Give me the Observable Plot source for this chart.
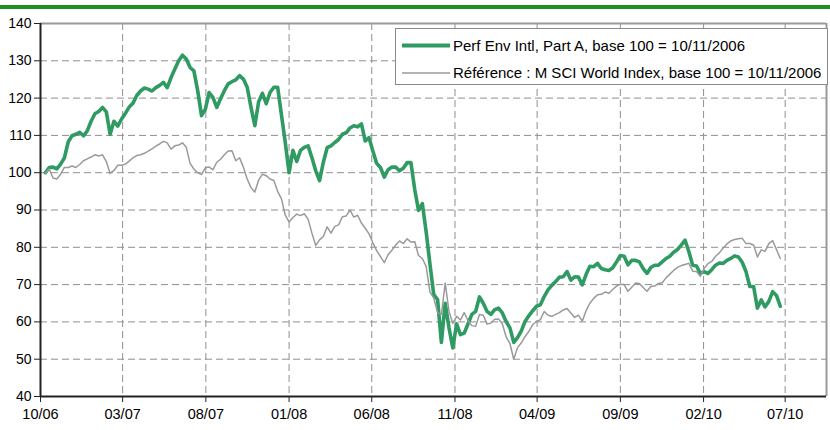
<!DOCTYPE html>
<html>
<head>
<meta charset="utf-8">
<script src="https://cdn.jsdelivr.net/npm/d3@7"></script>
<script src="https://cdn.jsdelivr.net/npm/@observablehq/plot@0.6"></script>
<style>
  body { margin: 0; background: #fff; }
</style>
</head>
<body>
<div id="chart"></div>
<script>
// ---- data (weekly readings) ----
const startDate = "2006-10-10";
const stepDays = 7;
const xEndDate = "2010-09-15";

const fund = [
  100, 101.4, 101.5, 101, 102.3, 104, 108.3, 109.9, 110.3, 110.8,
  109.9, 111.2, 113.8, 115.8, 116.4, 117.5, 116.3, 110.3, 113.8, 112.5,
  114.4, 115.9, 117.6, 118.6, 120.7, 121.9, 122.7, 122.4, 121.9, 122.8,
  123.4, 124.2, 122.8, 125.5, 127.8, 130, 131.5, 130.5, 128.2, 127.3,
  122, 115.3, 117, 121.5, 120.2, 117.5, 119.8, 122, 123.8, 124.4,
  124.9, 126, 125.1, 122.9, 117.5, 112.6, 119, 121.3, 118.5, 121.5,
  122.9, 122.9, 115.5, 108.1, 100, 106, 103, 106, 106.8, 107.2,
  104, 100.5, 97.9, 102.8, 106.7, 107.2, 108.1, 108.9, 110.3, 110.7,
  112, 112.6, 112.3, 113.1, 108.5, 109.4, 105.8, 102.5, 101.4, 98.8,
  100.8, 101.5, 101.5, 100.5, 101.2, 102.7, 102.7, 95.5, 89.9, 91.7,
  84.2, 75.5, 67.3, 66, 54.5, 65, 58.4, 53, 59.5, 56.6,
  57, 59.5, 62, 62.8, 66.7, 65, 62.8, 62, 63.3, 63.7,
  62.4, 60.1, 58.4, 54.5, 55.8, 57.6, 60.2, 61.7, 63, 64.2,
  64.6, 66.8, 68.6, 69.8, 70.8, 72, 72.1, 73.5, 71.2, 72.1,
  72, 69.9, 72.7, 74.9, 74.8, 75.7, 74.3, 74, 73.8, 74.5,
  76.1, 77.8, 77.6, 75.3, 76.5, 76.5, 76.1, 74.3, 73, 74.6,
  75.2, 75.2, 76.1, 77, 77.6, 78.7, 79.4, 80.6, 81.9, 78.8,
  75.2, 75, 73, 73.5, 73, 74, 75.2, 75.8, 75.7, 76.5,
  77, 77.7, 77.4, 76, 73.5, 69.5, 69.5, 63.7, 65.9, 64,
  65.5, 68.1, 67.1, 64.2
];

const msci = [
  100, 101, 98.6, 98.3, 99.6, 101.4, 101.4, 101.8, 101.4, 102.2,
  103.2, 103.7, 104.2, 104.8, 104.5, 104.8, 103, 99.8, 100.6, 102,
  102, 102.3, 103.1, 104, 104.6, 104.8, 105.2, 105.8, 106.4, 107.1,
  107.7, 108.4, 108, 106.3, 107.2, 107.4, 108, 106.8, 102.5, 101,
  100, 99.5, 101.3, 101.5, 100.8, 102.8, 103.6, 104.8, 105.8, 105.9,
  103.2, 104, 101.5, 98.3, 96, 94.8, 98, 99.6, 99.2, 98.3,
  97.9, 95, 93, 88.6, 86.8, 88, 88.9, 88.5, 89, 87.5,
  83.8, 80.5, 82, 82.9, 85.5, 83.8, 85.6, 86, 88.2, 88.4,
  90, 88.1, 88.6, 86.5, 85.1, 83.6, 81.2, 79.1, 77.5, 75.9,
  78, 79.2, 80.6, 81.7, 81, 82.3, 81.4, 81.5, 77.8, 77,
  74.9, 68, 66.4, 62.5, 62, 70.4, 62.8, 59.6, 61.5, 60.5,
  62.5, 60.3, 59, 58.8, 62, 61.8, 59.4, 59.7, 60.7, 60.8,
  59.5, 56, 54.2, 50, 53.1, 54.4, 56.1, 57.5, 59.3, 60.1,
  60.6, 62.8, 61.8, 61.5, 62, 62.5, 63.2, 63.6, 62.4, 61.2,
  61.8, 60.2, 63, 65, 66.3, 67.3, 67.4, 68, 67.7, 68.7,
  69.6, 70.1, 70, 68.2, 69.3, 70.4, 70.3, 69.2, 68.2, 69.5,
  69.6, 70.3, 70.5, 71.8, 72.8, 73.8, 74.6, 75.1, 75.4, 75.7,
  73.6, 73.5, 72.2, 74.3, 75.6, 76.2, 77.6, 78.5, 79.8, 80.9,
  81.7, 82.1, 82.3, 82.4, 81, 81, 80.6, 77.4, 79.3, 78.9,
  81, 81.8, 79.4, 77
];

const yTicks = [40, 50, 60, 70, 80, 90, 100, 110, 120, 130, 140];
const xTickLabels = ["10/06", "03/07", "08/07", "01/08", "06/08", "11/08", "04/09", "09/09", "02/10", "07/10"];
const seriesNames = [
  "Perf Env Intl, Part A, base 100 = 10/11/2006",
  "Référence : M SCI World Index, base 100 = 10/11/2006"
];
const seriesColors = ["#2f9a62", "#9a9a9a"];

// ---- build ----
const parseMY = d3.utcParse("%m/%y");
const parseISO = d3.utcParse("%Y-%m-%d");
const xTicks = xTickLabels.map(parseMY);
const t0 = parseISO(startDate);
const xEnd = parseISO(xEndDate);
const rows = fund.map((v, i) => ({date: d3.utcDay.offset(t0, i * stepDays), fund: v, msci: msci[i]}));

const font = "'Liberation Sans', Arial, Helvetica, sans-serif";
const gridStyle = {stroke: "#8f8f8f", strokeOpacity: 1, strokeWidth: 1, strokeDasharray: "7,4"};

const chart = Plot.plot({
  width: 830,
  height: 430,
  marginLeft: 40,
  marginRight: 4,
  marginTop: 23,
  marginBottom: 34,
  style: {fontFamily: font, fontSize: "14px", color: "#000", background: "#fff", overflow: "visible"},
  x: {type: "utc", domain: [xTicks[0], xEnd]},
  y: {domain: [40, 140]},
  marks: [
    Plot.gridY(yTicks.slice(1, -1), gridStyle),
    Plot.gridX(xTicks.slice(1), gridStyle),
    Plot.lineY(rows, {x: "date", y: "fund", stroke: seriesColors[0], strokeWidth: 3.6, strokeLinejoin: "round"}),
    Plot.lineY(rows, {x: "date", y: "msci", stroke: seriesColors[1], strokeWidth: 1.5}),
    Plot.ruleY([140], {stroke: "#9a9a9a", strokeWidth: 2}),
    Plot.ruleX([xEnd], {stroke: "#9a9a9a", strokeWidth: 2}),
    Plot.ruleY([40], {stroke: "#222", strokeWidth: 2}),
    Plot.ruleX([xTicks[0]], {stroke: "#222", strokeWidth: 2}),
    Plot.axisY(yTicks, {tickSize: 6, tickPadding: 3, stroke: "#222", fontSize: 14, tickFormat: d => String(d)}),
    Plot.axisX(xTicks, {tickSize: 6, tickPadding: 6, stroke: "#222", fontSize: 14.5, tickFormat: (d, i) => xTickLabels[i]})
  ]
});

document.getElementById("chart").appendChild(chart);

// ---- decoration: top band + legend ----
const svg = d3.select(chart);
svg.append("rect").attr("x", 0).attr("y", 5).attr("width", 830).attr("height", 4).attr("fill", "#1f8f22");

const lg = svg.append("g")
  .attr("font-family", font).attr("font-size", 15).attr("fill", "#000")
  .attr("text-anchor", "start");
lg.append("rect")
  .attr("x", 395.5).attr("y", 28.5).attr("width", 432).attr("height", 56)
  .attr("fill", "#fff").attr("stroke", "#8a8a8a").attr("stroke-width", 1);
const rowsY = [45.5, 73];
seriesNames.forEach((name, i) => {
  lg.append("line")
    .attr("x1", 402).attr("x2", 450).attr("y1", rowsY[i]).attr("y2", rowsY[i])
    .attr("stroke", seriesColors[i]).attr("stroke-width", i === 0 ? 4 : 1.5);
  lg.append("text")
    .attr("x", 453).attr("y", rowsY[i]).attr("dy", "0.35em")
    .attr("text-anchor", "start")
    .text(name);
});
</script>
</body>
</html>
